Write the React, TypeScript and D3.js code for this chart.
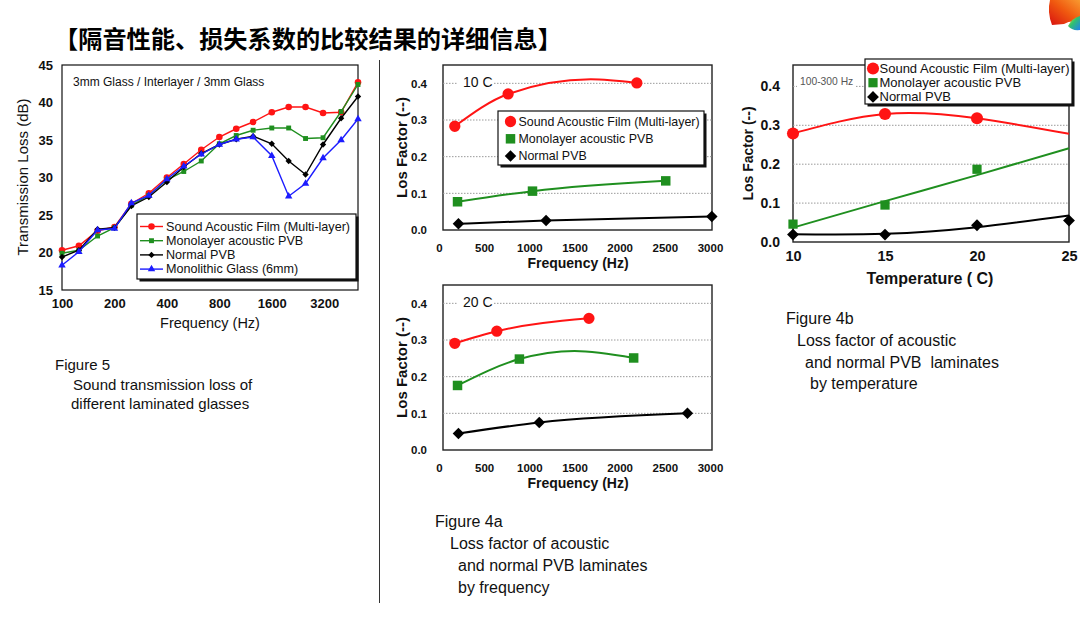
import { useEffect, useRef } from "react"
import * as d3 from "d3"

const W = 1080
const H = 621
const FONT = "'Liberation Sans', Arial, sans-serif"
const RED = "#ff1414"
const GREEN = "#1f8f1f"
const BLACK = "#000000"
const BLUE = "#1c1cff"

const pageTitle = "【隔音性能、损失系数的比较结果的详细信息】"

// Figure 5 : transmission loss, 1/3 octave bands
const bandFreqs = [100, 125, 160, 200, 250, 315, 400, 500, 630, 800, 1000, 1250, 1600, 2000, 2500, 3150, 4000, 5000]
const bandTicks = [100, 200, 400, 800, 1600, 3200]
const tlTicks = [15, 20, 25, 30, 35, 40, 45]
const tlNames = ["Sound Acoustic Film (Multi-layer)", "Monolayer acoustic PVB", "Normal PVB", "Monolithic Glass (6mm)"]
const tlSoundFilm = [20.3, 20.9, 22.9, 23.4, 26.5, 27.9, 30.0, 31.8, 33.7, 35.4, 36.5, 37.4, 38.7, 39.4, 39.4, 38.6, 38.7, 42.7]
const tlMonoPvb = [19.9, 20.3, 22.2, 23.3, 26.3, 27.6, 29.7, 30.8, 32.2, 34.5, 35.6, 36.3, 36.6, 36.6, 35.2, 35.3, 38.8, 42.4]
const tlNormalPvb = [19.4, 20.3, 23.1, 23.3, 26.2, 27.4, 29.4, 31.4, 33.2, 34.4, 35.1, 35.5, 34.5, 32.2, 30.4, 34.4, 37.9, 40.8]
const tlMonolithic = [18.3, 20.1, 23.0, 23.2, 26.6, 27.6, 29.8, 31.5, 33.1, 34.4, 35.1, 35.4, 32.9, 27.5, 29.2, 32.6, 35.0, 37.8]

// Figure 4a / 4b : loss factor
const lfNames = ["Sound Acoustic Film (Multi-layer)", "Monolayer acoustic PVB", "Normal PVB"]
const lfTicks = [0, 0.1, 0.2, 0.3, 0.4]
const hzTicks = [0, 500, 1000, 1500, 2000, 2500, 3000]

const f10Sound = [175, 765, 2190]
const lf10Sound = [0.283, 0.371, 0.401]
const f10Mono = [205, 1035, 2510]
const lf10Mono = [0.077, 0.106, 0.134]
const f10Normal = [215, 1185, 3020]
const lf10Normal = [0.017, 0.026, 0.037]

const f20Sound = [175, 640, 1660]
const lf20Sound = [0.291, 0.324, 0.359]
const f20Mono = [205, 890, 2155]
const lf20Mono = [0.176, 0.248, 0.251]
const f20Normal = [215, 1110, 2750]
const lf20Normal = [0.045, 0.075, 0.100]

// fitted curves with a visible maximum
const c10SoundF = [175, 765, 1680, 2190]
const c10SoundV = [0.283, 0.371, 0.411, 0.401]
const c20MonoF = [205, 890, 1500, 2155]
const c20MonoV = [0.176, 0.248, 0.270, 0.251]

const tempTicks = [10, 15, 20, 25]
const tSound = [10, 15, 20]
const lfTSound = [0.279, 0.329, 0.318]
const tMono = [10, 15, 20]
const lfTMono = [0.046, 0.095, 0.187]
const tNormal = [10, 15, 20, 25]
const lfTNormal = [0.019, 0.019, 0.043, 0.055]
// fitted curves as drawn in the figure
const trendTemps = [10, 15, 20, 25]
const trendSound = [0.279, 0.329, 0.318, 0.278]
const trendMono = [0.037, 0.105, 0.172, 0.241]
const trendNormal = [0.02, 0.021, 0.038, 0.068]

type Pt = { x: number; y: number }
type Sel = d3.Selection<any, any, any, any>
const zip = (xs: number[], ys: number[]): Pt[] => xs.map((x, i) => ({ x, y: ys[i] }))

function symbolPath(shape: string, size: number) {
  const type = shape === "circle" ? d3.symbolCircle : shape === "triangle" ? d3.symbolTriangle : d3.symbolSquare
  return d3.symbol().type(type).size(size)() as string
}

function drawMarks(g: Sel, pts: Pt[], x: (v: number) => number, y: (v: number) => number, shape: string, size: number, color: string) {
  g.selectAll(null)
    .data(pts)
    .enter()
    .append("path")
    .attr("d", symbolPath(shape, size))
    .attr("transform", (d: Pt) => `translate(${x(d.x)},${y(d.y)})${shape === "diamond" ? " rotate(45)" : ""}`)
    .attr("fill", color)
}

function legendBox(g: Sel, x0: number, y0: number, x1: number, y1: number) {
  g.append("rect").attr("x", x0 + 2.5).attr("y", y0 + 2.5).attr("width", x1 - x0).attr("height", y1 - y0).attr("fill", "#111")
  g.append("rect").attr("x", x0).attr("y", y0).attr("width", x1 - x0).attr("height", y1 - y0)
    .attr("fill", "#fff").attr("stroke", "#111").attr("stroke-width", 1.2)
}

function styleAxis(a: Sel, size: number) {
  a.select(".domain").remove()
  a.selectAll("text").attr("font-family", FONT).attr("font-size", size).attr("font-weight", "bold").attr("fill", "#111")
}

const App = () => {
  const svgRef = useRef<SVGSVGElement | null>(null)

  useEffect(() => {
    const svg = d3.select(svgRef.current)
    svg.selectAll("*").remove()

    svg.append("rect").attr("width", W).attr("height", H).attr("fill", "#fff")

    // page title
    svg.append("text")
      .attr("x", 54).attr("y", 37).attr("dominant-baseline", "central")
      .attr("font-family", "'Noto Sans CJK SC', sans-serif").attr("font-weight", "bold").attr("font-size", 24.2)
      .attr("fill", "#000").text(pageTitle)

    // corner logo
    const defs = svg.append("defs")
    const lg = defs.append("linearGradient").attr("id", "logoG").attr("x1", 0).attr("y1", 1).attr("x2", 1).attr("y2", 0)
    lg.append("stop").attr("offset", "0%").attr("stop-color", "#d81010")
    lg.append("stop").attr("offset", "55%").attr("stop-color", "#f05a10")
    lg.append("stop").attr("offset", "100%").attr("stop-color", "#f89a30")
    const bg = defs.append("linearGradient").attr("id", "logoB").attr("x1", 0).attr("y1", 0).attr("x2", 1).attr("y2", 1)
    bg.append("stop").attr("offset", "0%").attr("stop-color", "#f0e020")
    bg.append("stop").attr("offset", "45%").attr("stop-color", "#30c070")
    bg.append("stop").attr("offset", "100%").attr("stop-color", "#2080f0")
    svg.append("path").attr("d", "M1050,0 L1080,0 L1080,22 Q1070,20 1064,24 L1052,25 Q1047,12 1050,0 Z").attr("fill", "url(#logoG)")
    svg.append("path").attr("d", "M1068,26 Q1072,18 1080,16 L1080,30 Q1072,31 1068,26 Z").attr("fill", "url(#logoB)")

    // divider
    svg.append("line").attr("x1", 379.5).attr("x2", 379.5).attr("y1", 60).attr("y2", 603)
      .attr("stroke", "#333").attr("stroke-width", 1)

    // ---------------- Figure 5 ----------------
    {
      const f = { l: 62, r: 358, t: 65, b: 290 }
      const x = d3.scaleLog().domain([100, 5000]).range([f.l, f.r])
      const y = d3.scaleLinear().domain([15, 45]).range([f.b, f.t])
      const g = svg.append("g")

      g.append("rect").attr("x", f.l).attr("y", f.t).attr("width", f.r - f.l).attr("height", f.b - f.t)
        .attr("fill", "#fff").attr("stroke", "#111").attr("stroke-width", 1.2)

      const ya = g.append("g").attr("transform", `translate(${f.l},0)`)
        .call(d3.axisLeft(y).tickValues(tlTicks).tickSize(0).tickPadding(9).tickFormat(d3.format("d")))
      styleAxis(ya, 13)
      const xa = g.append("g").attr("transform", `translate(0,${f.b})`)
        .call(d3.axisBottom(x).tickValues(bandTicks).tickSize(0).tickPadding(9).tickFormat(d3.format("d")))
      styleAxis(xa, 13)

      g.append("text").attr("transform", `translate(22,177) rotate(-90)`).attr("text-anchor", "middle")
        .attr("dominant-baseline", "central").attr("font-family", FONT).attr("font-size", 15).attr("fill", "#111")
        .text("Transmission Loss (dB)")
      g.append("text").attr("x", (f.l + f.r) / 2).attr("y", 323).attr("text-anchor", "middle")
        .attr("dominant-baseline", "central").attr("font-family", FONT).attr("font-size", 14.5).attr("fill", "#111")
        .text("Frequency (Hz)")
      g.append("text").attr("x", 73).attr("y", 82).attr("dominant-baseline", "central")
        .attr("font-family", FONT).attr("font-size", 12).attr("fill", "#111")
        .text("3mm Glass / Interlayer / 3mm Glass")

      const series = [
        { vals: tlSoundFilm, color: RED, shape: "circle", size: 34 },
        { vals: tlMonoPvb, color: GREEN, shape: "square", size: 24 },
        { vals: tlNormalPvb, color: BLACK, shape: "diamond", size: 20 },
        { vals: tlMonolithic, color: BLUE, shape: "triangle", size: 24 },
      ]
      const line = d3.line<Pt>().x((d) => x(d.x)).y((d) => y(d.y))
      series.forEach((s) => {
        const pts = zip(bandFreqs, s.vals)
        g.append("path").datum(pts).attr("d", line).attr("fill", "none").attr("stroke", s.color).attr("stroke-width", 1.4)
        drawMarks(g, pts, x, y, s.shape, s.size, s.color)
      })

      // legend
      legendBox(g, 137, 214, 356, 279)
      series.forEach((s, i) => {
        const cy = 226.5 + i * 14.2
        g.append("line").attr("x1", 140).attr("x2", 163).attr("y1", cy).attr("y2", cy).attr("stroke", s.color).attr("stroke-width", 1.4)
        g.append("path").attr("d", symbolPath(s.shape, s.size))
          .attr("transform", `translate(151.5,${cy})${s.shape === "diamond" ? " rotate(45)" : ""}`).attr("fill", s.color)
        g.append("text").attr("x", 166).attr("y", cy).attr("dominant-baseline", "central")
          .attr("font-family", FONT).attr("font-size", 12.6).attr("fill", "#111").text(tlNames[i])
      })
    }

    // ---------------- Figure 4a (10 C and 20 C) ----------------
    const lfChart = (
      top: number,
      label: string,
      data: { xs: number[]; ys: number[]; cx: number[]; cy: number[] }[],
      withLegend: boolean,
    ) => {
      const f = { l: 443, r: 712, t: top, b: top + 165 }
      const x = d3.scaleLinear().domain([0, 3000]).range([439, 710])
      const y = d3.scaleLinear().domain([0, 0.45]).range([f.b, f.t])
      const g = svg.append("g")

      g.append("rect").attr("x", f.l).attr("y", f.t).attr("width", f.r - f.l).attr("height", f.b - f.t)
        .attr("fill", "#fff").attr("stroke", "#222").attr("stroke-width", 1.4)
      g.selectAll(null).data(lfTicks.filter((v) => v > 0)).enter().append("line")
        .attr("x1", f.l).attr("x2", f.r).attr("y1", (d: number) => y(d)).attr("y2", (d: number) => y(d))
        .attr("stroke", "#9a9a9a").attr("stroke-width", 1).attr("stroke-dasharray", "1.5,1.5")

      const ya = g.append("g").attr("transform", `translate(${f.l},0)`)
        .call(d3.axisLeft(y).tickValues(lfTicks).tickSize(0).tickPadding(16).tickFormat(d3.format(".1f")))
      styleAxis(ya, 11.5)
      const xa = g.append("g").attr("transform", `translate(0,${f.b})`)
        .call(d3.axisBottom(x).tickValues(hzTicks).tickSize(0).tickPadding(14).tickFormat(d3.format("d")))
      styleAxis(xa, 11.5)

      g.append("text").attr("transform", `translate(401,${(f.t + f.b) / 2}) rotate(-90)`).attr("text-anchor", "middle")
        .attr("dominant-baseline", "central").attr("font-family", FONT).attr("font-size", 15).attr("font-weight", "bold")
        .attr("fill", "#111").text("Los Factor (--)")
      g.append("text").attr("x", 578).attr("y", f.b + 33).attr("text-anchor", "middle")
        .attr("dominant-baseline", "central").attr("font-family", FONT).attr("font-size", 14).attr("font-weight", "bold")
        .attr("fill", "#111").text("Frequency (Hz)")

      g.append("rect").attr("x", 458).attr("y", y(0.4) - 9).attr("width", 36).attr("height", 18).attr("fill", "#fff")
      g.append("text").attr("x", 463).attr("y", y(0.4) - 1).attr("dominant-baseline", "central")
        .attr("font-family", FONT).attr("font-size", 14).attr("fill", "#111").text(label)

      const styles = [
        { color: RED, shape: "circle", size: 100 },
        { color: GREEN, shape: "square", size: 90 },
        { color: BLACK, shape: "diamond", size: 66 },
      ]
      const line = d3.line<Pt>().x((d) => x(d.x)).y((d) => y(d.y)).curve(d3.curveMonotoneX)
      data.forEach((s, i) => {
        g.append("path").datum(zip(s.cx, s.cy)).attr("d", line).attr("fill", "none")
          .attr("stroke", styles[i].color).attr("stroke-width", 2)
        drawMarks(g, zip(s.xs, s.ys), x, y, styles[i].shape, styles[i].size, styles[i].color)
      })

      if (withLegend) {
        legendBox(g, 498, 111, 704, 165)
        styles.forEach((s, i) => {
          const cy = 121.5 + i * 17.3
          g.append("path").attr("d", symbolPath(s.shape, s.size))
            .attr("transform", `translate(510.5,${cy})${s.shape === "diamond" ? " rotate(45)" : ""}`).attr("fill", s.color)
          g.append("text").attr("x", 518.5).attr("y", cy).attr("dominant-baseline", "central")
            .attr("font-family", FONT).attr("font-size", 12.4).attr("fill", "#111").text(lfNames[i])
        })
      }
    }

    lfChart(65, "10 C", [
      { xs: f10Sound, ys: lf10Sound, cx: c10SoundF, cy: c10SoundV },
      { xs: f10Mono, ys: lf10Mono, cx: f10Mono, cy: lf10Mono },
      { xs: f10Normal, ys: lf10Normal, cx: f10Normal, cy: lf10Normal },
    ], true)
    lfChart(285, "20 C", [
      { xs: f20Sound, ys: lf20Sound, cx: f20Sound, cy: lf20Sound },
      { xs: f20Mono, ys: lf20Mono, cx: c20MonoF, cy: c20MonoV },
      { xs: f20Normal, ys: lf20Normal, cx: f20Normal, cy: lf20Normal },
    ], false)

    // ---------------- Figure 4b (temperature) ----------------
    {
      const f = { l: 793, r: 1069, t: 65, b: 242 }
      const x = d3.scaleLinear().domain([10, 25]).range([f.l, f.r])
      const y = d3.scaleLinear().domain([0, 0.455]).range([f.b, f.t])
      const g = svg.append("g")

      g.append("rect").attr("x", f.l).attr("y", f.t).attr("width", f.r - f.l).attr("height", f.b - f.t)
        .attr("fill", "#fff").attr("stroke", "#222").attr("stroke-width", 1.4)
      g.selectAll(null).data(lfTicks.filter((v) => v > 0)).enter().append("line")
        .attr("x1", f.l).attr("x2", f.r).attr("y1", (d: number) => y(d)).attr("y2", (d: number) => y(d))
        .attr("stroke", "#9a9a9a").attr("stroke-width", 1).attr("stroke-dasharray", "1.5,1.5")

      const ya = g.append("g").attr("transform", `translate(${f.l},0)`)
        .call(d3.axisLeft(y).tickValues(lfTicks).tickSize(0).tickPadding(13).tickFormat(d3.format(".1f")))
      styleAxis(ya, 14)
      const xa = g.append("g").attr("transform", `translate(0,${f.b})`)
        .call(d3.axisBottom(x).tickValues(tempTicks).tickSize(0).tickPadding(9).tickFormat(d3.format("d")))
      styleAxis(xa, 14.5)

      g.append("text").attr("transform", `translate(748,${(f.t + f.b) / 2}) rotate(-90)`).attr("text-anchor", "middle")
        .attr("dominant-baseline", "central").attr("font-family", FONT).attr("font-size", 14).attr("font-weight", "bold")
        .attr("fill", "#111").text("Los Factor (--)")
      g.append("text").attr("x", 930).attr("y", 278).attr("text-anchor", "middle")
        .attr("dominant-baseline", "central").attr("font-family", FONT).attr("font-size", 16).attr("font-weight", "bold")
        .attr("fill", "#111").text("Temperature ( C)")

      g.append("rect").attr("x", 797).attr("y", 74).attr("width", 58).attr("height", 15).attr("fill", "#fff")
      g.append("text").attr("x", 800).attr("y", 81.5).attr("dominant-baseline", "central")
        .attr("font-family", FONT).attr("font-size", 10.3).attr("fill", "#555").text("100-300 Hz")

      const curve = d3.line<Pt>().x((d) => x(d.x)).y((d) => y(d.y)).curve(d3.curveNatural)
      const trends = [
        { ys: trendSound, color: RED },
        { ys: trendMono, color: GREEN },
        { ys: trendNormal, color: BLACK },
      ]
      trends.forEach((t) => {
        g.append("path").datum(zip(trendTemps, t.ys)).attr("d", curve).attr("fill", "none")
          .attr("stroke", t.color).attr("stroke-width", 2)
      })
      drawMarks(g, zip(tSound, lfTSound), x, y, "circle", 115, RED)
      drawMarks(g, zip(tMono, lfTMono), x, y, "square", 85, GREEN)
      drawMarks(g, zip(tNormal, lfTNormal), x, y, "diamond", 70, BLACK)

      legendBox(g, 865, 59, 1072, 104)
      const styles = [
        { color: RED, shape: "circle", size: 115 },
        { color: GREEN, shape: "square", size: 85 },
        { color: BLACK, shape: "diamond", size: 70 },
      ]
      styles.forEach((s, i) => {
        const cy = 68.5 + i * 14.2
        g.append("path").attr("d", symbolPath(s.shape, s.size))
          .attr("transform", `translate(873,${cy})${s.shape === "diamond" ? " rotate(45)" : ""}`).attr("fill", s.color)
        g.append("text").attr("x", 879.5).attr("y", cy).attr("dominant-baseline", "central")
          .attr("font-family", FONT).attr("font-size", 13).attr("fill", "#111").text(lfNames[i])
      })
    }

    // ---------------- captions ----------------
    const captions = [
      { x: 55, y: 370, t: "Figure 5" },
      { x: 73, y: 390, t: "Sound transmission loss of" },
      { x: 71, y: 409, t: "different laminated glasses" },
      { x: 435, y: 527, t: "Figure 4a" },
      { x: 450, y: 549, t: "Loss factor of acoustic" },
      { x: 458, y: 571, t: "and normal PVB laminates" },
      { x: 458, y: 593, t: "by frequency" },
      { x: 786, y: 324, t: "Figure 4b" },
      { x: 797, y: 346, t: "Loss factor of acoustic" },
      { x: 805, y: 367.5, t: "and normal PVB  laminates" },
      { x: 810, y: 389, t: "by temperature" },
    ]
    svg.append("g").selectAll("text").data(captions).enter().append("text")
      .attr("x", (d) => d.x).attr("y", (d) => d.y)
      .attr("font-family", FONT).attr("font-size", (d) => (d.x < 100 ? 15 : 16)).attr("fill", "#111")
      .attr("xml:space", "preserve").style("white-space", "pre")
      .text((d) => d.t)
  }, [])

  return <svg ref={svgRef} width={W} height={H} style={{ position: "absolute", left: 0, top: 0 }} />
}

export default App
